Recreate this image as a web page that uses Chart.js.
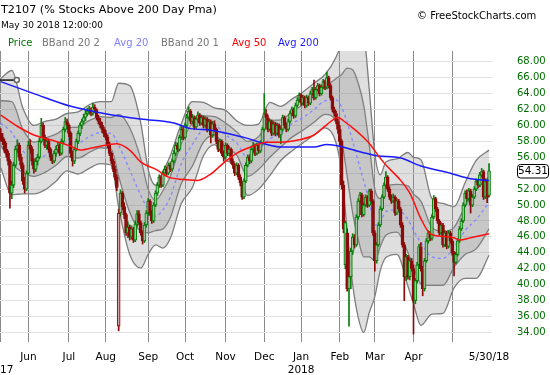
<!DOCTYPE html>
<html>
<head>
<meta charset="utf-8">
<script src="https://cdn.jsdelivr.net/npm/chart.js@4.4.1/dist/chart.umd.min.js"></script>
<style>
  body { margin: 0; background: #fff; font-family: "DejaVu Sans", Verdana, sans-serif; }
  #wrap { position: relative; width: 550px; height: 375px; overflow: hidden; }
  #chart { position: absolute; left: 0; top: 0; }
  .t { position: absolute; white-space: nowrap; line-height: 1; }
</style>
</head>
<body>
<div id="wrap">
  <canvas id="chart" width="550" height="375"></canvas>
  <div class="t" style="left:1px;top:3.5px;font-size:11.2px;color:#000">T2107 (% Stocks Above 200 Day Pma)</div>
  <div class="t" style="left:1px;top:20.5px;font-size:9px;color:#000">May 30 2018 12:00:00</div>
  <div class="t" style="left:417px;top:10.5px;font-size:10px;color:#000">© FreeStockCharts.com</div>
  <div class="t" style="left:8px;top:38px;font-size:10px;color:#007a00">Price</div>
  <div class="t" style="left:42px;top:38px;font-size:10px;color:#777">BBand 20 2</div>
  <div class="t" style="left:114px;top:38px;font-size:10px;color:#8080ff">Avg 20</div>
  <div class="t" style="left:161px;top:38px;font-size:10px;color:#777">BBand 20 1</div>
  <div class="t" style="left:232px;top:38px;font-size:10px;color:#ff0000">Avg 50</div>
  <div class="t" style="left:278px;top:38px;font-size:10px;color:#1a1aff">Avg 200</div>
</div>
<script>
// daily T2107 candles, index 0 = May 10 2017 ... index 265 = May 30 2018
const opens = [
  59.0, 58.5, 58.0, 57.0, 56.5, 55.5, 51.5, 52.5, 55.0, 57.0,
  57.5, 56.0, 55.0, 53.0, 52.0, 54.0, 57.5, 57.0, 55.5, 54.5,
  55.5, 56.0, 58.0, 60.0, 58.5, 57.5, 58.0, 57.0, 56.0, 55.5,
  56.5, 57.0, 57.5, 56.5, 58.0, 59.5, 60.5, 60.0, 59.0, 56.5,
  55.5, 57.0, 58.0, 59.0, 60.0, 60.5, 61.0, 61.5, 61.8, 62.0,
  61.5, 62.3, 62.0, 61.0, 60.5, 60.0, 59.5, 59.0, 58.5, 57.5,
  56.5, 55.5, 54.5, 53.5, 34.8, 49.0, 51.5, 49.8, 48.8, 46.5,
  47.2, 46.0, 47.0, 45.6, 47.6, 48.9, 47.8, 46.5, 45.5, 47.5,
  49.0, 50.5, 49.0, 48.0, 50.0, 51.5, 52.5, 53.5, 52.5, 54.0,
  54.5, 54.0, 55.0, 54.5, 55.5, 56.5, 57.5, 57.0, 58.5, 59.5,
  58.5, 60.0, 61.0, 61.8, 60.5, 61.0, 59.8, 60.8, 61.3, 60.3,
  61.0, 60.0, 60.8, 59.5, 60.5, 58.8, 60.2, 59.5, 58.0, 57.0,
  58.0, 56.5, 56.0, 57.5, 56.5, 57.0, 55.5, 55.0, 54.0, 55.0,
  53.5, 52.8, 51.0, 53.0, 55.0, 56.0, 55.5, 57.0, 57.5, 56.5,
  57.5, 56.8, 57.8, 59.5, 61.5, 61.0, 59.5, 60.5, 59.0, 60.2,
  59.0, 60.0, 58.8, 59.5, 61.0, 60.0, 59.5, 60.5, 61.5, 62.0,
  61.2, 62.5, 63.2, 63.8, 62.8, 63.5, 62.5, 63.5, 62.8, 64.0,
  64.5, 63.5, 64.5, 65.0, 64.0, 64.8, 65.5, 64.8, 66.0, 65.0,
  63.5, 62.0, 61.5, 60.5, 59.5, 58.0, 52.5, 42.5, 46.5, 39.5,
  41.0, 44.2, 46.0, 45.0, 48.5, 50.5, 51.3, 48.8, 50.0, 51.0,
  50.0, 51.8, 50.5, 46.5, 43.0, 45.0, 47.5, 49.5, 51.0, 52.5,
  53.5, 52.0, 51.0, 50.5, 51.0, 49.0, 50.5, 49.5, 47.5, 45.0,
  41.0, 43.5, 41.0, 43.0, 42.0, 38.0, 40.5, 42.5, 44.8, 42.0,
  39.5, 43.0, 45.5, 46.5, 45.8, 48.5, 50.8, 49.5, 48.0, 46.5,
  47.5, 45.0, 46.5, 44.8, 46.5, 45.5, 44.0, 42.8, 43.8, 45.5,
  47.0, 48.0, 50.0, 51.5, 50.8, 51.8, 50.0, 51.0, 52.0, 53.0,
  52.5, 53.8, 54.2, 51.0, 53.0, 51.2
];
const highs = [
  59.6, 59.0, 58.3, 57.8, 56.8, 55.7, 53.0, 55.4, 57.4, 58.2,
  57.8, 56.4, 55.3, 53.5, 54.3, 58.0, 58.2, 57.3, 55.8, 55.9,
  56.4, 58.4, 60.9, 60.3, 58.8, 58.4, 58.3, 57.2, 56.3, 56.8,
  57.4, 57.9, 57.7, 58.3, 59.8, 61.0, 60.8, 60.2, 59.2, 56.8,
  57.3, 58.3, 59.3, 60.3, 60.8, 61.4, 61.9, 62.2, 62.4, 62.2,
  62.8, 62.6, 62.1, 61.3, 60.9, 60.4, 59.8, 59.4, 58.8, 57.9,
  56.7, 55.8, 54.9, 53.8, 49.5, 51.9, 51.7, 50.3, 49.0, 47.9,
  47.5, 47.4, 47.2, 48.0, 49.3, 49.3, 48.0, 46.8, 47.8, 49.3,
  50.8, 50.7, 49.3, 50.3, 51.8, 52.8, 53.8, 53.7, 54.3, 54.9,
  54.8, 55.3, 55.3, 55.8, 56.9, 57.9, 57.8, 58.8, 59.9, 59.8,
  60.3, 61.4, 62.3, 62.0, 61.4, 61.2, 61.1, 61.7, 61.5, 61.3,
  61.2, 61.1, 61.0, 60.8, 60.7, 60.5, 60.6, 59.7, 58.2, 58.3,
  58.2, 56.8, 57.8, 57.7, 57.4, 57.2, 55.8, 55.2, 55.3, 55.2,
  53.8, 53.0, 53.3, 55.3, 56.3, 56.3, 57.3, 57.9, 57.7, 57.8,
  57.7, 58.1, 59.8, 64.0, 62.0, 61.3, 60.8, 60.7, 60.5, 60.4,
  60.3, 60.2, 59.8, 61.3, 61.2, 60.3, 60.8, 61.8, 62.3, 62.2,
  62.8, 63.5, 64.1, 64.0, 63.8, 63.7, 63.8, 63.7, 64.3, 64.8,
  65.7, 64.8, 65.3, 65.2, 65.1, 65.8, 65.7, 66.7, 66.2, 65.2,
  63.7, 62.3, 61.8, 60.8, 60.0, 58.2, 53.0, 48.0, 47.0, 41.5,
  44.6, 46.4, 46.3, 48.8, 50.8, 51.6, 51.5, 50.3, 51.3, 51.2,
  52.0, 52.0, 50.7, 46.8, 45.3, 47.8, 49.8, 51.3, 52.8, 54.2,
  53.7, 52.3, 51.3, 51.4, 51.2, 50.8, 50.7, 49.7, 47.8, 45.3,
  43.8, 43.7, 43.3, 43.3, 42.5, 40.8, 42.8, 45.1, 45.3, 42.3,
  43.3, 45.8, 46.8, 46.7, 48.8, 51.2, 51.0, 49.7, 48.2, 47.8,
  47.7, 46.8, 46.7, 46.8, 46.7, 45.7, 44.2, 44.1, 45.8, 47.3,
  48.3, 50.3, 51.8, 51.9, 52.1, 52.0, 51.3, 52.3, 53.3, 53.2,
  54.1, 54.6, 54.4, 53.3, 53.2, 55.2
];
const lows = [
  58.0, 57.6, 56.6, 56.0, 55.0, 49.6, 50.8, 52.2, 54.8, 56.6,
  55.6, 54.6, 52.6, 51.5, 51.8, 53.8, 56.5, 55.0, 54.0, 54.2,
  55.0, 55.8, 57.8, 58.2, 57.2, 57.0, 56.6, 55.6, 55.2, 55.3,
  56.1, 56.7, 56.2, 56.3, 57.8, 59.2, 59.6, 58.6, 56.0, 54.9,
  55.2, 56.8, 57.7, 58.7, 59.6, 60.2, 60.6, 61.2, 61.4, 61.2,
  61.3, 61.6, 60.7, 60.2, 59.7, 59.1, 58.6, 58.2, 57.2, 56.2,
  55.2, 54.2, 53.2, 51.8, 34.2, 48.6, 49.4, 48.3, 46.2, 45.9,
  45.6, 45.7, 45.3, 45.4, 47.3, 47.5, 46.2, 45.1, 45.3, 47.2,
  48.7, 48.7, 47.7, 47.8, 49.8, 51.2, 52.2, 52.2, 52.3, 53.7,
  53.7, 53.8, 54.2, 54.3, 55.3, 56.2, 56.7, 56.8, 58.2, 58.2,
  58.3, 59.8, 60.8, 60.2, 60.2, 59.5, 59.6, 60.5, 60.0, 60.1,
  59.7, 59.8, 59.2, 59.3, 57.8, 58.5, 59.2, 57.7, 56.7, 56.8,
  56.2, 55.5, 55.8, 56.2, 56.2, 55.2, 54.6, 53.7, 53.8, 53.2,
  52.4, 50.7, 50.8, 52.8, 54.8, 55.2, 55.3, 56.7, 56.2, 56.3,
  56.5, 56.6, 57.6, 59.3, 60.7, 59.2, 59.3, 58.7, 58.8, 58.7,
  58.8, 58.5, 57.7, 59.3, 59.7, 59.2, 59.3, 60.3, 61.2, 60.9,
  61.0, 62.3, 63.0, 62.5, 62.6, 62.2, 62.3, 62.5, 62.6, 63.8,
  63.2, 63.3, 64.3, 63.7, 63.8, 64.6, 64.5, 64.6, 64.7, 63.2,
  61.7, 61.2, 60.2, 59.0, 57.5, 52.0, 46.5, 42.0, 39.2, 34.8,
  39.5, 43.8, 44.6, 44.8, 48.2, 50.2, 48.5, 48.6, 49.8, 49.7,
  49.8, 50.2, 46.2, 41.7, 42.7, 44.8, 47.3, 49.3, 50.8, 52.3,
  51.7, 50.7, 50.2, 50.3, 48.7, 48.8, 49.2, 47.2, 44.7, 38.0,
  40.5, 40.7, 40.6, 41.7, 33.8, 37.6, 40.2, 42.3, 41.7, 38.6,
  39.2, 42.8, 45.2, 45.5, 45.6, 48.3, 49.2, 47.7, 46.2, 46.3,
  44.7, 44.8, 44.5, 44.6, 45.2, 43.7, 41.1, 42.6, 43.6, 45.3,
  46.8, 47.8, 49.8, 50.5, 50.6, 49.0, 49.8, 50.8, 51.8, 52.2,
  52.3, 53.5, 50.7, 50.8, 50.3, 51.0
];
const closes = [
  58.5, 58.0, 57.0, 56.5, 55.5, 51.5, 52.5, 55.0, 57.0, 57.5,
  56.0, 55.0, 53.0, 52.0, 54.0, 57.5, 57.0, 55.5, 54.5, 55.5,
  56.0, 58.0, 60.0, 58.5, 57.5, 58.0, 57.0, 56.0, 55.5, 56.5,
  57.0, 57.5, 56.5, 58.0, 59.5, 60.5, 60.0, 59.0, 56.5, 55.5,
  57.0, 58.0, 59.0, 60.0, 60.5, 61.0, 61.5, 61.8, 62.0, 61.5,
  62.3, 62.0, 61.0, 60.5, 60.0, 59.5, 59.0, 58.5, 57.5, 56.5,
  55.5, 54.5, 53.5, 52.2, 49.0, 51.5, 49.8, 48.8, 46.5, 47.2,
  46.0, 47.0, 45.6, 47.6, 48.9, 47.8, 46.5, 45.5, 47.5, 49.0,
  50.5, 49.0, 48.0, 50.0, 51.5, 52.5, 53.5, 52.5, 54.0, 54.5,
  54.0, 55.0, 54.5, 55.5, 56.5, 57.5, 57.0, 58.5, 59.5, 58.5,
  60.0, 61.0, 61.8, 60.5, 61.0, 59.8, 60.8, 61.3, 60.3, 61.0,
  60.0, 60.8, 59.5, 60.5, 58.8, 60.2, 59.5, 58.0, 57.0, 58.0,
  56.5, 56.0, 57.5, 56.5, 57.0, 55.5, 55.0, 54.0, 55.0, 53.5,
  52.8, 51.0, 53.0, 55.0, 56.0, 55.5, 57.0, 57.5, 56.5, 57.5,
  56.8, 57.8, 59.5, 61.5, 61.0, 59.5, 60.5, 59.0, 60.2, 59.0,
  60.0, 58.8, 59.5, 61.0, 60.0, 59.5, 60.5, 61.5, 62.0, 61.2,
  62.5, 63.2, 63.8, 62.8, 63.5, 62.5, 63.5, 62.8, 64.0, 64.5,
  63.5, 64.5, 65.0, 64.0, 64.8, 65.5, 64.8, 66.0, 65.0, 63.5,
  62.0, 61.5, 60.5, 59.5, 58.0, 52.5, 47.0, 47.8, 39.5, 41.0,
  44.2, 46.0, 45.0, 48.5, 50.5, 51.3, 48.8, 50.0, 51.0, 50.0,
  51.8, 50.5, 46.5, 43.0, 45.0, 47.5, 49.5, 51.0, 52.5, 53.5,
  52.0, 51.0, 50.5, 51.0, 49.0, 50.5, 49.5, 47.5, 45.0, 41.0,
  43.5, 41.0, 43.0, 42.0, 38.0, 40.5, 42.5, 44.8, 42.0, 39.5,
  43.0, 45.5, 46.5, 45.8, 48.5, 50.8, 49.5, 48.0, 46.5, 47.5,
  45.0, 46.5, 44.8, 46.5, 45.5, 44.0, 42.8, 43.8, 45.5, 47.0,
  48.0, 50.0, 51.5, 50.8, 51.8, 50.0, 51.0, 52.0, 53.0, 52.5,
  53.8, 54.2, 51.0, 53.0, 51.0, 54.31
];

// Bollinger bands (20, 2 and 20, 1) and 20-day average, read at these day indexes
const bandIdx = [0, 6, 12, 18, 24, 30, 36, 42, 48, 54, 60, 64, 70, 76, 80, 84, 88, 92, 98, 104,
  110, 116, 122, 128, 134, 140, 146, 152, 158, 164, 170, 176, 182, 185, 188, 191, 194, 197, 200, 203,
  206, 209, 215, 221, 224, 228, 234, 240, 246, 252, 258, 265];
const upper2 = [65.9, 66.9, 62.2, 60.0, 60.5, 60.8, 61.5, 61.7, 62.6, 63.0, 63.0, 65.3, 65.0, 60.3, 54.5, 52.5, 54.2, 56.2, 60.2, 63.0,
  62.9, 62.2, 61.9, 60.6, 60.0, 60.2, 62.9, 62.4, 63.3, 64.2, 65.3, 66.4, 68.6, 70.5, 74.0, 76.0, 75.1, 72.0, 64.5, 56.5,
  53.8, 55.4, 55.8, 56.6, 56.0, 55.7, 50.8, 50.2, 49.8, 52.8, 55.6, 56.9];
const upper1 = [63.1, 63.0, 59.5, 57.9, 58.4, 58.9, 59.7, 59.8, 60.6, 61.1, 61.0, 61.4, 59.7, 55.8, 52.0, 50.6, 51.8, 53.6, 57.7, 60.3,
  61.2, 61.1, 60.3, 59.2, 58.0, 58.6, 60.6, 60.7, 61.7, 62.6, 63.6, 64.8, 65.9, 66.4, 67.2, 67.0, 65.3, 62.5, 57.5, 52.0,
  50.8, 52.3, 52.6, 52.4, 51.4, 50.5, 47.2, 46.7, 47.2, 49.8, 51.9, 53.6];
const avg20 = [60.3, 59.1, 56.8, 55.7, 56.2, 56.9, 57.9, 57.8, 58.6, 59.1, 59.0, 57.5, 54.4, 51.2, 49.5, 48.6, 49.4, 51.0, 55.2, 57.6,
  59.6, 60.0, 58.8, 57.8, 56.0, 57.0, 58.3, 59.0, 60.2, 61.0, 62.0, 63.1, 63.2, 62.3, 60.4, 58.0, 55.5, 53.0, 50.5, 47.5,
  47.8, 49.2, 49.4, 48.2, 46.8, 45.3, 43.5, 43.3, 44.7, 46.8, 48.2, 50.3];
const lower1 = [57.5, 55.2, 54.1, 53.6, 54.1, 55.0, 56.1, 55.9, 56.6, 57.2, 57.0, 53.6, 49.1, 46.7, 46.5, 46.8, 47.0, 48.4, 52.7, 54.9,
  57.9, 58.8, 57.2, 56.3, 53.6, 54.5, 56.0, 57.3, 58.5, 59.4, 60.4, 61.4, 60.5, 58.2, 53.6, 49.0, 45.7, 43.5, 43.5, 43.0,
  44.8, 46.2, 46.6, 44.0, 42.2, 40.1, 39.9, 39.9, 42.2, 43.8, 44.5, 47.0];
const lower2 = [54.7, 51.3, 51.4, 51.4, 51.9, 53.0, 54.3, 53.9, 54.6, 55.2, 55.0, 49.7, 43.8, 42.1, 43.8, 45.0, 44.6, 45.8, 50.2, 52.2,
  56.2, 57.6, 55.7, 54.8, 51.2, 52.0, 53.7, 55.6, 56.8, 57.8, 58.8, 59.7, 57.8, 54.1, 46.8, 40.0, 35.9, 34.0, 36.5, 38.5,
  41.8, 43.4, 43.8, 39.8, 37.6, 34.9, 36.3, 36.4, 39.6, 40.8, 40.8, 43.7];

// 50-day and 200-day averages
const avg50Idx = [0, 9, 18, 27, 38, 43, 52, 63, 70, 76, 85, 90, 99, 107, 114, 121, 128, 137, 144, 152,
  162, 170, 177, 183, 187, 191, 199, 208, 217, 222, 228, 233, 238, 246, 249, 255, 265];
const avg50 = [61.3, 59.9, 58.8, 58.2, 57.4, 56.9, 57.3, 57.7, 56.9, 55.4, 54.4, 53.6, 53.2, 53.1, 53.9, 55.3, 56.5, 57.4, 57.9, 57.9,
  58.2, 58.8, 60.1, 61.0, 60.4, 59.7, 58.0, 55.3, 53.1, 51.5, 48.3, 46.4, 46.1, 45.9, 45.6, 45.9, 46.4];
const avg200Idx = [0, 18, 38, 56, 76, 94, 103, 114, 132, 152, 170, 177, 184, 190, 204, 217, 228, 244, 255, 265];
const avg200 = [65.5, 64.0, 62.4, 61.5, 60.8, 60.3, 59.6, 59.4, 58.5, 57.3, 57.3, 57.6, 57.4, 57.0, 56.2, 55.9, 54.9, 54.0, 53.3, 53.1];

// hand-drawn horizontal marker at the top left
const markIdx = [-0.4, 8.7];
const markVal = [65.7, 65.7];

// axes
const xTickIdx = [-0.4, 15, 37, 57, 80, 100, 122, 143, 163, 184, 203, 224, 245, 265];
const xTickLabels = ['', 'Jun', 'Jul', 'Aug', 'Sep', 'Oct', 'Nov', 'Dec', ['Jan', '2018'], 'Feb', 'Mar', 'Apr', '', '5/30/18'];
const yTicks = [34, 36, 38, 40, 42, 44, 46, 48, 50, 52, 54, 56, 58, 60, 62, 64, 66, 68];
const yearLeft = '17';

const UP = '#0a7d0a';
const DOWN = '#8b0b0b';

const pts = (xs, ys) => xs.map((x, k) => ({ x: x, y: ys[k] }));
const candleColor = closes.map((c, i) => (i === 0 ? c >= opens[i] : c >= closes[i - 1]) ? UP : DOWN);
const bodyFill = closes.map((c, i) => c > opens[i] ? 'rgba(255,255,255,0.45)' : candleColor[i]);

const bandLine = (ys, extra) => Object.assign({
  type: 'line',
  data: pts(bandIdx, ys),
  borderColor: '#7c7c7c',
  borderWidth: 1.3,
  pointRadius: 0,
  cubicInterpolationMode: 'monotone',
  fill: false,
  order: 10
}, extra);

const maLine = (xs, ys, color, extra) => Object.assign({
  type: 'line',
  data: pts(xs, ys),
  borderColor: color,
  borderWidth: 1.5,
  pointRadius: 0,
  cubicInterpolationMode: 'monotone',
  fill: false,
  order: 1
}, extra);

const extras = {
  id: 'extras',
  afterDraw(chart) {
    const { ctx, scales: { x, y } } = chart;
    ctx.save();
    ctx.font = '10.5px "DejaVu Sans"';
    ctx.fillStyle = '#000';
    ctx.textBaseline = 'middle';
    ctx.textAlign = 'left';
    ctx.fillText(yearLeft, x.left, 370);

    // last value tag on the price axis
    const last = closes[closes.length - 1];
    const py = Math.round(y.getPixelForValue(last)) + 0.5;
    ctx.beginPath();
    ctx.roundRect(y.left + 25.5, py - 7, 31, 13.5, 3);
    ctx.fillStyle = '#fff';
    ctx.fill();
    ctx.strokeStyle = '#000';
    ctx.lineWidth = 1;
    ctx.stroke();
    ctx.font = '10.5px "DejaVu Sans"';
    ctx.fillStyle = '#000';
    ctx.textAlign = 'center';
    ctx.fillText(last.toFixed(2), y.left + 41, py);
    ctx.restore();
  }
};

Chart.defaults.font.family = '"DejaVu Sans", Verdana, sans-serif';

new Chart(document.getElementById('chart'), {
  type: 'bar',
  data: {
    datasets: [
      bandLine(upper2, { fill: '+1', backgroundColor: 'rgba(140,140,140,0.28)' }),
      bandLine(lower2),
      bandLine(upper1, { fill: '+1', backgroundColor: 'rgba(105,105,105,0.22)' }),
      bandLine(lower1),
      maLine(bandIdx, avg20, '#8a8aff', { borderDash: [3, 3], borderWidth: 1.4, order: 7 }),
      {
        type: 'bar',
        data: closes.map((c, i) => ({ x: i, y: [Math.max(opens[i], c), highs[i]] })),
        backgroundColor: candleColor,
        barThickness: 1,
        grouped: false,
        order: 6
      },
      {
        type: 'bar',
        data: closes.map((c, i) => ({ x: i, y: [lows[i], Math.min(opens[i], c)] })),
        backgroundColor: candleColor,
        barThickness: 1,
        grouped: false,
        order: 6
      },
      {
        type: 'bar',
        data: closes.map((c, i) => ({ x: i, y: [opens[i], c] })),
        backgroundColor: bodyFill,
        borderColor: candleColor,
        borderWidth: 1,
        borderSkipped: false,
        barThickness: 3,
        grouped: false,
        order: 5
      },
      maLine(avg50Idx, avg50, '#ff1010'),
      maLine(avg200Idx, avg200, '#1a1aff'),
      {
        type: 'line',
        data: pts(markIdx, markVal),
        borderColor: '#111',
        borderWidth: 1.5,
        pointRadius: [0, 2.5],
        pointHoverRadius: 0,
        pointBackgroundColor: '#fff',
        pointBorderColor: '#666',
        fill: false,
        order: 0
      }
    ]
  },
  options: {
    responsive: false,
    animation: false,
    layout: { autoPadding: false, padding: { top: 51, left: 0, right: 0, bottom: 0 } },
    plugins: { legend: { display: false }, tooltip: { enabled: false } },
    scales: {
      x: {
        type: 'linear',
        min: -0.4,
        max: 266.6,
        offset: false,
        afterBuildTicks: s => { s.ticks = xTickIdx.map(v => ({ value: v })); },
        afterFit: s => { s.height = 33; s.paddingLeft = 0; s.paddingRight = 0; },
        ticks: {
          autoSkip: false,
          maxRotation: 0,
          padding: 9,
          color: '#000',
          font: { size: 10.5 },
          callback: (v, i) => xTickLabels[i]
        },
        grid: {
          offset: false,
          drawTicks: false,
          color: ctx => ctx.index === xTickIdx.length - 1 ? 'rgba(0,0,0,0)' : '#8a8a8a',
          lineWidth: 1
        },
        border: { display: false }
      },
      y: {
        position: 'right',
        min: 32.8,
        max: 69.35,
        afterBuildTicks: s => { s.ticks = yTicks.map(v => ({ value: v })); },
        afterFit: s => { s.width = 58; },
        ticks: {
          padding: 25,
          color: '#007000',
          font: { size: 10 },
          callback: v => v.toFixed(2)
        },
        grid: { drawTicks: false, color: '#e2e2e2', lineWidth: 1 },
        border: { display: false }
      }
    }
  },
  plugins: [extras]
});
</script>
</body>
</html>
